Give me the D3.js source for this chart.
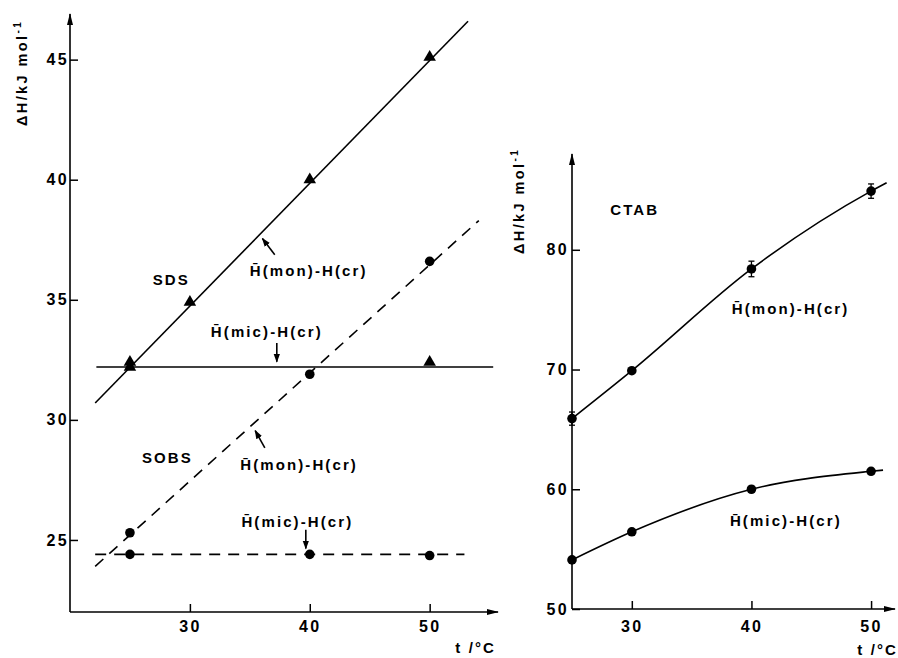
<!DOCTYPE html>
<html>
  <head>
    <meta charset="UTF-8">
    <style>
      body {
        margin: 0;
        background: white;
      }

      svg text {
        font-family: "Liberation Sans", Arial, sans-serif;
        font-weight: bold;
        fill: #000;
      }

      .axis text {
        font-size: 16px;
        letter-spacing: 2.3px;
      }

      .axis .tick line {
        stroke: #000;
        stroke-width: 1.5;
      }

      .axis .domain {
        display: none;
      }

      .label {
        font-size: 15px;
        letter-spacing: 2.1px;
      }

      .title {
        font-size: 14.5px;
        letter-spacing: 2.4px;
      }
    </style>
    <script src="https://d3js.org/d3.v7.min.js"></script>
  </head>

  <body>
    <svg id="chart"></svg>

    <script type="text/javascript">
      // left panel: SDS (triangles, solid) and SOBS (circles, dashed)
      const sdsMonT = [25, 30, 40, 50]
      const sdsMon = [32.4, 34.9, 40.0, 45.1]
      const sdsMicT = [25, 50]
      const sdsMic = [32.2, 32.4]
      const sobsMonT = [25, 40, 50]
      const sobsMon = [25.3, 31.9, 36.6]
      const sobsMicT = [25, 40, 50]
      const sobsMic = [24.4, 24.4, 24.35]

      // straight fitted lines, read as end points
      const sdsMonFitT = [22.1, 53.2]
      const sdsMonFit = [30.7, 46.6]
      const sdsMicFitT = [22.2, 55.3]
      const sdsMicFit = [32.2, 32.2]
      const sobsMonFitT = [22.1, 54.1]
      const sobsMonFit = [23.9, 38.3]
      const sobsMicFitT = [22.1, 52.9]
      const sobsMicFit = [24.4, 24.4]

      // right panel: CTAB
      const ctabT = [25, 30, 40, 50]
      const ctabMon = [65.9, 69.9, 78.4, 84.9]
      const ctabMonErr = [0.55, 0, 0.65, 0.6]
      const ctabMic = [54.1, 56.45, 60.0, 61.5]
      const ctabMonEnd = [51.3, 85.6]
      const ctabMicEnd = [51.0, 61.6]

      // tick labels
      const leftXTicks = [30, 40, 50]
      const leftYTicks = [25, 30, 35, 40, 45]
      const rightXTicks = [30, 40, 50]
      const rightYTicks = [50, 60, 70, 80]

      const monText = 'H\u0304(mon)-H(cr)'
      const micText = 'H\u0304(mic)-H(cr)'

      const leftLabels = [
        { t: 26.9, v: 35.6, text: 'SDS' },
        { t: 26.0, v: 28.2, text: 'SOBS' },
        { t: 35.0, v: 36.0, text: monText },
        { t: 31.75, v: 33.46, text: micText },
        { t: 34.2, v: 27.9, text: monText },
        { t: 34.3, v: 25.54, text: micText },
      ]
      const leftArrows = [
        { t0: 37.08, v0: 36.875, t1: 36.05, v1: 37.55 },
        { t0: 37.25, v0: 33.2, t1: 37.25, v1: 32.42 },
        { t0: 36.25, v0: 28.83, t1: 35.45, v1: 29.55 },
        { t0: 39.67, v0: 25.42, t1: 39.67, v1: 24.64 },
      ]
      const rightLabels = [
        { t: 28.2, v: 82.9, text: 'CTAB' },
        { t: 38.35, v: 74.67, text: monText },
        { t: 38.2, v: 56.9, text: micText },
      ]

      function zip(ts, vs) {
        return ts.map((t, i) => ({ t: t, v: vs[i] }))
      }

      function getChartConfig() {
        let width = 898
        let height = 658
        let svg = d3.select('#chart')
          .attr('width', width)
          .attr('height', height)

        let defs = svg.append('defs')
        defs.append('marker')
          .attr('id', 'axis-arrow')
          .attr('viewBox', '0 -4 12 8')
          .attr('refX', 11)
          .attr('refY', 0)
          .attr('markerUnits', 'userSpaceOnUse')
          .attr('markerWidth', 13)
          .attr('markerHeight', 8)
          .attr('orient', 'auto')
          .append('path')
          .attr('d', 'M0,-3L12,0L0,3Z')
          .attr('fill', '#000')

        defs.append('marker')
          .attr('id', 'note-arrow')
          .attr('viewBox', '0 -4 9 8')
          .attr('refX', 8)
          .attr('refY', 0)
          .attr('markerUnits', 'userSpaceOnUse')
          .attr('markerWidth', 9)
          .attr('markerHeight', 8)
          .attr('orient', 'auto')
          .append('path')
          .attr('d', 'M0,-3.2L9,0L0,3.2Z')
          .attr('fill', '#000')

        return { width, height, svg }
      }

      function getScales() {
        let left = {
          x: d3.scaleLinear().domain([20, 55.7]).range([70, 498]),
          y: d3.scaleLinear().domain([22, 46.9]).range([612, 14]),
        }
        let right = {
          x: d3.scaleLinear().domain([25, 52]).range([572, 895]),
          y: d3.scaleLinear().domain([50, 88]).range([609, 154]),
        }
        return { left, right }
      }

      function drawAxes(svg, s, xTicks, yTicks, padX, padY) {
        let x0 = s.x.range()[0]
        let y0 = s.y.range()[0]

        svg.append('g')
          .attr('class', 'axis')
          .attr('transform', `translate(${x0},0)`)
          .call(d3.axisLeft(s.y).tickValues(yTicks).tickSize(-8).tickPadding(padY))

        svg.append('g')
          .attr('class', 'axis')
          .attr('transform', `translate(0,${y0})`)
          .call(d3.axisBottom(s.x).tickValues(xTicks).tickSize(-8).tickPadding(padX))

        // axis lines with arrow heads
        svg.append('path')
          .attr('d', `M${x0},${y0}L${x0},${s.y.range()[1]}`)
          .attr('stroke', '#000')
          .attr('stroke-width', 1.6)
          .attr('marker-end', 'url(#axis-arrow)')
        svg.append('path')
          .attr('d', `M${x0},${y0}L${s.x.range()[1]},${y0}`)
          .attr('stroke', '#000')
          .attr('stroke-width', 1.6)
          .attr('marker-end', 'url(#axis-arrow)')
      }

      function drawLine(svg, s, pts, dashed, curve) {
        let line = d3.line()
          .x(d => s.x(d.t))
          .y(d => s.y(d.v))
          .curve(curve || d3.curveLinear)
        svg.append('path')
          .datum(pts)
          .attr('d', line)
          .attr('fill', 'none')
          .attr('stroke', '#000')
          .attr('stroke-width', 1.6)
          .attr('stroke-dasharray', dashed ? '11 8' : null)
      }

      function drawCircles(svg, s, pts) {
        svg.append('g')
          .selectAll('circle')
          .data(pts)
          .join('circle')
          .attr('cx', d => s.x(d.t))
          .attr('cy', d => s.y(d.v))
          .attr('r', 4.8)
          .attr('fill', '#000')
      }

      function drawTriangles(svg, s, pts) {
        let sym = d3.symbol().type(d3.symbolTriangle).size(68)
        svg.append('g')
          .selectAll('path')
          .data(pts)
          .join('path')
          .attr('transform', d => `translate(${s.x(d.t)},${s.y(d.v)})`)
          .attr('d', sym)
          .attr('fill', '#000')
      }

      function drawLabels(svg, s, labels) {
        svg.append('g')
          .selectAll('text')
          .data(labels)
          .join('text')
          .attr('class', 'label')
          .attr('x', d => s.x(d.t))
          .attr('y', d => s.y(d.v))
          .text(d => d.text)
      }

      function drawTitles(svg, x, y, tx, ty) {
        let t = svg.append('text')
          .attr('class', 'title')
          .attr('transform', `translate(${x},${y}) rotate(-90)`)
        t.append('tspan').text('\u0394H/kJ mol')
        t.append('tspan')
          .attr('dy', -6)
          .attr('font-size', 10)
          .text('-1')

        svg.append('text')
          .attr('class', 'label')
          .attr('x', tx)
          .attr('y', ty)
          .attr('text-anchor', 'end')
          .text('t /\u00B0C')
      }

      function drawLeft(svg, s) {
        drawAxes(svg, s, leftXTicks, leftYTicks, 9, 1)

        drawLine(svg, s, zip(sdsMonFitT, sdsMonFit), false)
        drawLine(svg, s, zip(sdsMicFitT, sdsMicFit), false)
        drawLine(svg, s, zip(sobsMonFitT, sobsMonFit), true)
        drawLine(svg, s, zip(sobsMicFitT, sobsMicFit), true)

        drawTriangles(svg, s, zip(sdsMonT, sdsMon))
        drawTriangles(svg, s, zip(sdsMicT, sdsMic))
        drawCircles(svg, s, zip(sobsMonT, sobsMon))
        drawCircles(svg, s, zip(sobsMicT, sobsMic))

        drawLabels(svg, s, leftLabels)

        svg.append('g')
          .selectAll('path')
          .data(leftArrows)
          .join('path')
          .attr('d', d => `M${s.x(d.t0)},${s.y(d.v0)}L${s.x(d.t1)},${s.y(d.v1)}`)
          .attr('stroke', '#000')
          .attr('stroke-width', 1.6)
          .attr('marker-end', 'url(#note-arrow)')

        drawTitles(svg, 27, 126, 496, 653)
      }

      function drawRight(svg, s) {
        drawAxes(svg, s, rightXTicks, rightYTicks, 12, 3)

        let monPts = zip(ctabT, ctabMon)
        let micPts = zip(ctabT, ctabMic)
        drawLine(svg, s, monPts.concat([{ t: ctabMonEnd[0], v: ctabMonEnd[1] }]), false, d3.curveMonotoneX)
        drawLine(svg, s, micPts.concat([{ t: ctabMicEnd[0], v: ctabMicEnd[1] }]), false, d3.curveMonotoneX)

        // error bars
        let err = svg.append('g')
          .selectAll('g')
          .data(monPts.map((d, i) => ({ t: d.t, v: d.v, e: ctabMonErr[i] })).filter(d => d.e > 0))
          .join('g')
          .attr('stroke', '#000')
          .attr('stroke-width', 1.3)
        err.append('line')
          .attr('x1', d => s.x(d.t)).attr('x2', d => s.x(d.t))
          .attr('y1', d => s.y(d.v - d.e)).attr('y2', d => s.y(d.v + d.e))
        err.append('line')
          .attr('x1', d => s.x(d.t) - 3).attr('x2', d => s.x(d.t) + 3)
          .attr('y1', d => s.y(d.v + d.e)).attr('y2', d => s.y(d.v + d.e))
        err.append('line')
          .attr('x1', d => s.x(d.t) - 3).attr('x2', d => s.x(d.t) + 3)
          .attr('y1', d => s.y(d.v - d.e)).attr('y2', d => s.y(d.v - d.e))

        drawCircles(svg, s, monPts)
        drawCircles(svg, s, micPts)

        drawLabels(svg, s, rightLabels)

        drawTitles(svg, 524, 254, 898, 655)
      }

      function showChart() {
        let config = getChartConfig()
        let scales = getScales()
        drawLeft(config.svg, scales.left)
        drawRight(config.svg, scales.right)
      }

      showChart()
    </script>
  </body>
</html>
